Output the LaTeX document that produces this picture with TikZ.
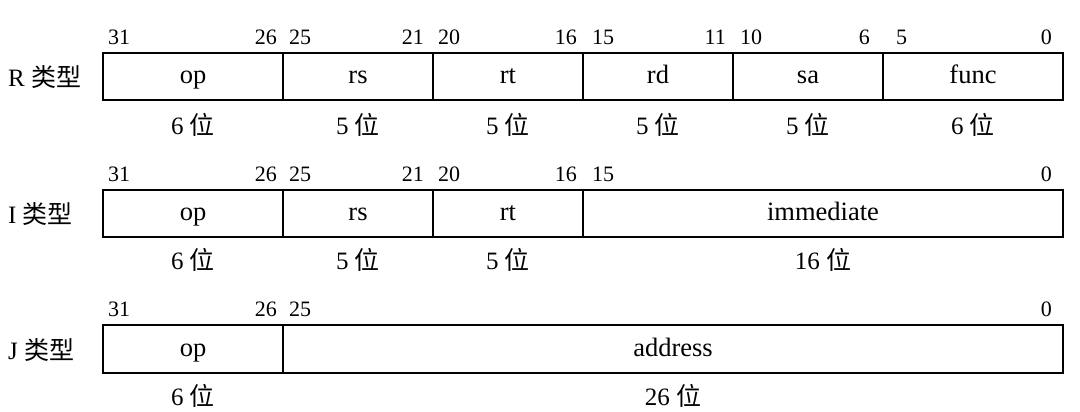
\documentclass[tikz,border=0pt]{standalone}
\usepackage{fontspec}
\setmainfont{Liberation Serif}
\newfontfamily\cjk{Noto Sans CJK SC}
\begin{document}
\begin{tikzpicture}[x=1pt,y=-1pt,
  field/.style={draw, line width=1.6pt, minimum height=47.5pt, inner sep=0pt, outer sep=0pt,
    text height=19pt, text depth=5pt, font=\fontsize{26.5}{30}\selectfont, anchor=west},
  bitnum/.style={font=\fontsize{22}{26}\selectfont, inner sep=0pt},
  bitl/.style={bitnum, anchor=base west},
  bitr/.style={bitnum, anchor=base east},
  widthlab/.style={font=\fontsize{25}{29}\selectfont, inner sep=0pt, anchor=base},
  rowlab/.style={font=\fontsize{25}{29}\selectfont, inner sep=0pt, anchor=west}]
\useasboundingbox (0,0) rectangle (1080,412);

% ---------------- R type ----------------
\node[rowlab] (rlab) at (8,77.5) {R {\cjk 类型}};
\node[field, minimum width=180pt] (rop) at (103,76.5) {op};
\node[field, minimum width=150pt] (rrs) at (rop.east) {rs};
\node[field, minimum width=150pt] (rrt) at (rrs.east) {rt};
\node[field, minimum width=150pt] (rrd) at (rrt.east) {rd};
\node[field, minimum width=150pt] (rsa) at (rrd.east) {sa};
\node[field, minimum width=180pt] (rfn) at (rsa.east) {func};
\node[bitl] (r31) at (108,45) {31};
\node[bitr] (r26) at (277,45) {26};
\node[bitl] (r25) at (289,45) {25};
\node[bitr] (r21) at (424,45) {21};
\node[bitl] (r20) at (438,45) {20};
\node[bitr] (r16) at (577,45) {16};
\node[bitl] (r15) at (592,45) {15};
\node[bitr] (r11) at (726,45) {11};
\node[bitl] (r10) at (740,45) {10};
\node[bitr] (r6) at (870,45) {6};
\node[bitl] (r5) at (896,45) {5};
\node[bitr] (r0) at (1052,45) {0};
\node[widthlab] (rw1) at (rop.south |- 0,134) {6 {\cjk 位}};
\node[widthlab] (rw2) at (rrs.south |- 0,134) {5 {\cjk 位}};
\node[widthlab] (rw3) at (rrt.south |- 0,134) {5 {\cjk 位}};
\node[widthlab] (rw4) at (rrd.south |- 0,134) {5 {\cjk 位}};
\node[widthlab] (rw5) at (rsa.south |- 0,134) {5 {\cjk 位}};
\node[widthlab] (rw6) at (rfn.south |- 0,134) {6 {\cjk 位}};

% ---------------- I type ----------------
\node[rowlab] (ilab) at (8,214) {I {\cjk 类型}};
\node[field, minimum width=180pt] (iop) at (103,213.5) {op};
\node[field, minimum width=150pt] (irs) at (iop.east) {rs};
\node[field, minimum width=150pt] (irt) at (irs.east) {rt};
\node[field, minimum width=480pt] (iim) at (irt.east) {immediate};
\node[bitl] (i31) at (108,181) {31};
\node[bitr] (i26) at (277,181) {26};
\node[bitl] (i25) at (289,181) {25};
\node[bitr] (i21) at (424,181) {21};
\node[bitl] (i20) at (438,181) {20};
\node[bitr] (i16) at (577,181) {16};
\node[bitl] (i15) at (592,181) {15};
\node[bitr] (i0) at (1052,181) {0};
\node[widthlab] (iw1) at (iop.south |- 0,269) {6 {\cjk 位}};
\node[widthlab] (iw2) at (irs.south |- 0,269) {5 {\cjk 位}};
\node[widthlab] (iw3) at (irt.south |- 0,269) {5 {\cjk 位}};
\node[widthlab] (iw4) at (iim.south |- 0,269) {16 {\cjk 位}};

% ---------------- J type ----------------
\node[rowlab] (jlab) at (8,350) {J {\cjk 类型}};
\node[field, minimum width=180pt] (jop) at (103,349) {op};
\node[field, minimum width=780pt] (jad) at (jop.east) {address};
\node[bitl] (j31) at (108,316.5) {31};
\node[bitr] (j26) at (277,316.5) {26};
\node[bitl] (j25) at (289,316.5) {25};
\node[bitr] (j0) at (1052,316.5) {0};
\node[widthlab] (jw1) at (jop.south |- 0,405) {6 {\cjk 位}};
\node[widthlab] (jw2) at (jad.south |- 0,405) {26 {\cjk 位}};
\end{tikzpicture}
\end{document}
